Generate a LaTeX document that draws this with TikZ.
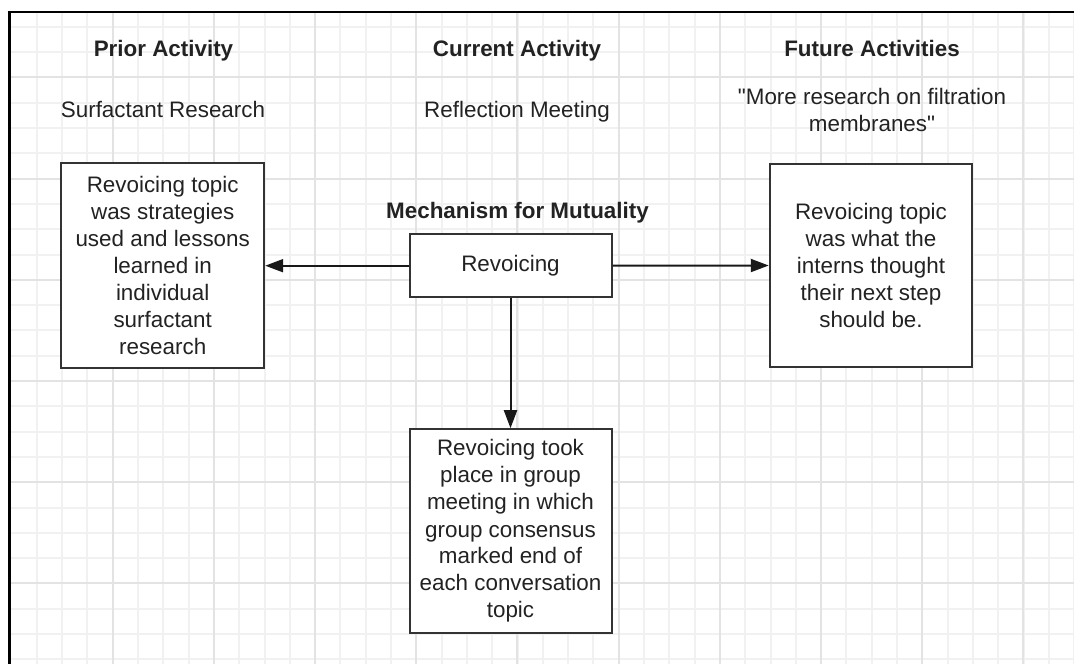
\documentclass[tikz,border=0pt]{standalone}
\usepackage{fontspec}
\setmainfont{Liberation Sans}[Ligatures=TeXOff]
\usepackage{tikz}
\usetikzlibrary{arrows.meta, positioning}

\definecolor{gridminor}{HTML}{F1F1F1}
\definecolor{gridmajor}{HTML}{E3E3E3}
\definecolor{boxline}{HTML}{333333}
\definecolor{inktext}{HTML}{222222}

\begin{document}
\begin{tikzpicture}[x=1pt,y=-1pt,
	every node/.style={font=\fontsize{22.4pt}{27pt}\selectfont, text=inktext, align=center},
	heading/.style={font=\fontsize{22.4pt}{27pt}\selectfont\bfseries, anchor=base},
	label text/.style={anchor=base},
	topic box/.style={draw=boxline, line width=2pt, fill=white, inner sep=0pt},
	link/.style={draw=black!90, line width=2pt, -{Triangle[length=18pt,width=13pt]}}]
	\useasboundingbox (0,0) rectangle (1074,664);
	% squared paper
	\foreach \i in {1,...,42}
		\draw[gridminor, line width=2pt] ({round(11.5+25.3*\i)},12) -- ++(0,652);
	\foreach \j in {0,...,25}
		\draw[gridminor, line width=2pt] (9,{round(26.8+25.3*\j)}) -- ++(1065,0);
	\foreach \i in {1,...,10}
		\draw[gridmajor, line width=2pt] ({round(11.5+101.2*\i)},12) -- ++(0,652);
	\foreach \j in {0,...,5}
		\draw[gridmajor, line width=2pt] (9,{round(77.4+101.2*\j)}) -- ++(1065,0);
	\draw[line width=3pt] (9,664) -- (9,12);
	\draw[line width=2pt] (7.5,12) -- (1074,12);

	% column headings
	\node[heading] (priorhead) at (163.5,56.5) {Prior Activity};
	\node[heading] (currenthead) at (517,56.5) {Current Activity};
	\node[heading] (futurehead) at (872,56.5) {Future Activities};
	\node[label text] (priorname) at (163,117) {Surfactant Research};
	\node[label text] (currentname) at (517,117) {Reflection Meeting};
	\node (futurename) at (872,109.5) {"More research on filtration\\membranes"};

	% boxes
	\node[topic box, minimum width=203pt, minimum height=205pt] (priortopic) at (162.7,265.7)
		{Revoicing topic\\was strategies\\used and lessons\\learned in\\individual\\surfactant\\research};
	\node[topic box, minimum width=202pt, minimum height=63pt] (revoicing) at (510.5,265.7) {Revoicing};
	\node[heading] (mechanism) at (517.5,218) {Mechanism for Mutuality};
	\node[topic box, minimum width=202.5pt, minimum height=202.5pt] (futuretopic) at (871,265.5)
		{Revoicing topic\\was what the\\interns thought\\their next step\\should be.};
	\node[topic box, minimum width=202pt, minimum height=204pt] (meetingtopic) at (510.5,531.2)
		{Revoicing took\\place in group\\meeting in which\\group consensus\\marked end of\\each conversation\\topic};

	% arrows
	\draw[link] (revoicing.west) -- (priortopic.east);
	\draw[link] (revoicing.east) -- (futuretopic.west);
	\draw[link] (revoicing.south) -- (meetingtopic.north);
\end{tikzpicture}
\end{document}
